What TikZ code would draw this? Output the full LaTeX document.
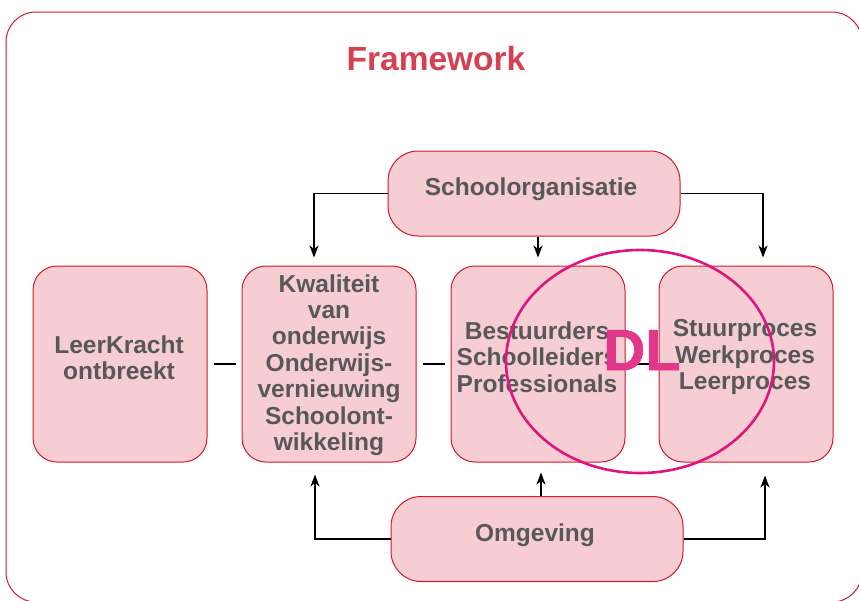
\documentclass[tikz,border=0pt]{standalone}
\usepackage{fontspec}
\setmainfont{Liberation Sans}
\newfontfamily\dlfont[FakeBold=1.2]{Liberation Sans Bold}
\usetikzlibrary{arrows.meta,shapes.geometric}

\definecolor{boxfill}{RGB}{245,205,211}
\definecolor{boxline}{RGB}{208,25,46}
\definecolor{titlered}{RGB}{214,64,80}
\definecolor{labelgray}{RGB}{88,88,90}
\definecolor{ringpink}{RGB}{224,22,127}
\definecolor{dlpink}{RGB}{226,55,139}

\tikzset{
  frame/.style={draw=boxline, line width=1pt, rounded corners=30pt},
  tallbox/.style={draw=boxline, fill=boxfill, line width=1pt, rounded corners=24pt,
    minimum width=174pt, minimum height=196pt, inner sep=0pt},
  widebox/.style={draw=boxline, fill=boxfill, line width=1pt, rounded corners=30pt,
    minimum width=292pt, minimum height=85pt, inner sep=0pt},
  boxtext/.style={text=labelgray, align=center, inner sep=0pt,
    font=\fontsize{24.5}{26.4}\selectfont\bfseries},
  arr/.style={draw=black, line width=1.1pt, -{Stealth[length=12pt,width=9pt,inset=3.5pt]}},
  link/.style={draw=black, line width=1.1pt, shorten <=6pt, shorten >=6pt},
}

\begin{document}
\begin{tikzpicture}[x=1pt,y=-1pt]
\useasboundingbox (0,0) rectangle (859,600);

% outer frame
\draw[frame] (6,12) rectangle (862,602);

% title
\node[text=titlered, font=\fontsize{33.5}{36}\selectfont\bfseries, anchor=base] (title) at (436,70) {Framework};

% boxes
\node[widebox] (so) at (534,193.5) {};
\node[widebox] (om) at (537,539) {};
\node[tallbox] (lk) at (120,364) {};
\node[tallbox] (kw) at (329,364) {};
\node[tallbox] (be) at (538,364) {};
\node[tallbox] (st) at (746,364) {};

% box labels
\node[boxtext, anchor=base] (tso) at (531,195) {Schoolorganisatie};
\node[boxtext, anchor=base] (tom) at (535,541) {Omgeving};
\node[boxtext] (tlk) at (119,358) {LeerKracht\\ontbreekt};
\node[boxtext] (tkw) at (329,365) {Kwaliteit\\van\\onderwijs\\Onderwijs-\\vernieuwing\\Schoolont-\\wikkeling};
\node[boxtext] (tbe) at (537,357) {Bestuurders\\Schoolleiders\\Professionals};
\node[boxtext] (tst) at (745,357) {Stuurproces\\Werkproces\\Leerproces};

% entry points on the boxes
\coordinate (kwtop) at ([xshift=-15pt]kw.north);
\coordinate (sttop) at ([xshift=17pt]st.north);
\coordinate (kwbot) at ([xshift=-14pt]kw.south);
\coordinate (bebot) at ([xshift=3pt]be.south);
\coordinate (stbot) at ([xshift=19pt]st.south);

% arrows from Schoolorganisatie
\draw[arr, shorten >=8pt] (so.west) -| (kwtop);
\draw[arr, shorten >=8pt] (so.south -| be.north) -- (be.north);
\draw[arr, shorten >=8pt] (so.east) -| (sttop);

% arrows from Omgeving
\draw[arr, shorten >=12pt] (om.west) -| (kwbot);
\draw[arr, shorten >=10pt] (om.north -| bebot) -- (bebot);
\draw[arr, shorten >=13pt] (om.east) -| (stbot);

% links between the row of boxes
\draw[link] (lk.east) -- (kw.west);
\draw[link] (kw.east) -- (be.west);
\draw[link] (be.east) -- (st.west);

% DL ring and label
\node[ellipse, draw=ringpink, line width=2.6pt, minimum width=268pt, minimum height=223pt, inner sep=0pt] (dl) at (640,361.5) {};
\node[text=dlpink, font=\fontsize{58}{60}\selectfont\dlfont, anchor=base] (dlt) at (642,370) {DL};
\end{tikzpicture}
\end{document}
